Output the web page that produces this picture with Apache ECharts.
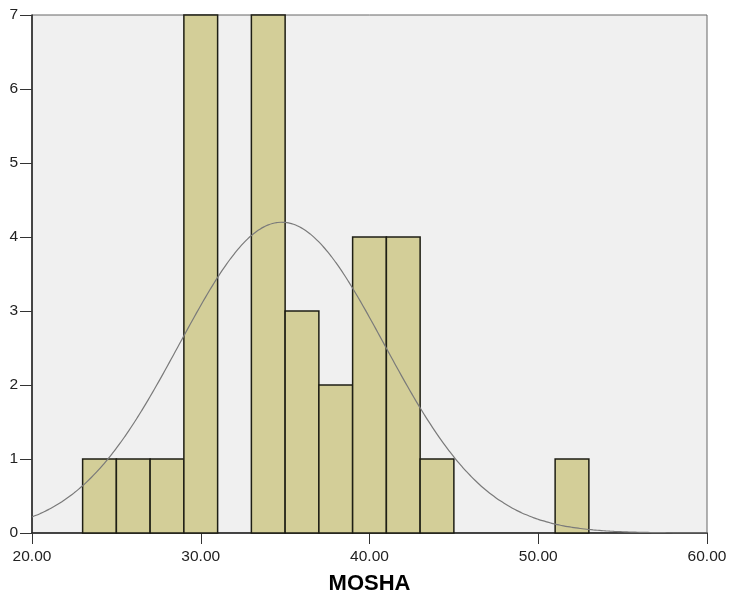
<!DOCTYPE html>
<html>
<head>
<meta charset="utf-8">
<script src="https://cdn.jsdelivr.net/npm/echarts@6/dist/echarts.min.js"></script>
<style>
  html, body { margin: 0; padding: 0; background: #ffffff; }
  #chart { width: 730px; height: 592px; }
</style>
</head>
<body>
<div id="chart"></div>
<script>
// Histogram of MOSHA (age), bins of width 2
const binStarts = [23, 25, 27, 29, 31, 33, 35, 37, 39, 41, 43, 45, 47, 49, 51];
const binCounts = [1, 1, 1, 7, 0, 7, 3, 2, 4, 4, 1, 0, 0, 0, 1];
const binWidth = 2;

// Fitted normal curve parameters
const sampleMean = 34.8;
const sampleSd = 6.08;
const sampleN = 32;

const xTicks = [20, 30, 40, 50, 60];
const yTicks = [0, 1, 2, 3, 4, 5, 6, 7];

const bars = binStarts
  .map((s, i) => [s, s + binWidth, binCounts[i]])
  .filter(d => d[2] > 0);

// Normal density scaled to counts per bin
const curve = [];
for (let x = 20; x <= 60.0001; x += 0.25) {
  const z = (x - sampleMean) / sampleSd;
  const y = sampleN * binWidth * Math.exp(-0.5 * z * z) / (sampleSd * Math.sqrt(2 * Math.PI));
  curve.push([x, y]);
}

const chart = echarts.init(document.getElementById('chart'));
chart.setOption({
  animation: false,
  backgroundColor: '#ffffff',
  grid: {
    left: 32, right: 23, top: 15, bottom: 59,
    outerBoundsMode: 'none',
    containLabel: false,
    show: true,
    backgroundColor: '#f0f0f0',
    borderColor: '#666666',
    borderWidth: 1
  },
  xAxis: {
    type: 'value',
    min: xTicks[0], max: xTicks[xTicks.length - 1], interval: 10,
    name: 'MOSHA',
    nameLocation: 'middle',
    nameGap: 40,
    nameTextStyle: { fontFamily: 'Liberation Sans', fontSize: 22, fontWeight: 'bold', color: '#000' },
    axisLine: { show: true, lineStyle: { color: '#222', width: 1.5 } },
    axisTick: { show: true, length: 11, lineStyle: { color: '#333' } },
    axisLabel: {
      margin: 16,
      fontFamily: 'Liberation Sans', fontSize: 15.5, color: '#222',
      formatter: v => v.toFixed(2)
    },
    splitLine: { show: false }
  },
  yAxis: {
    type: 'value',
    min: yTicks[0], max: yTicks[yTicks.length - 1], interval: 1,
    axisLine: { show: true, lineStyle: { color: '#222', width: 1.5 } },
    axisTick: { show: true, length: 12, lineStyle: { color: '#333' } },
    axisLabel: { margin: 14, fontFamily: 'Liberation Sans', fontSize: 15.5, color: '#222' },
    splitLine: { show: false }
  },
  series: [
    {
      type: 'custom',
      data: bars,
      renderItem: (params, api) => {
        const p0 = api.coord([api.value(0), api.value(2)]);
        const p1 = api.coord([api.value(1), 0]);
        return {
          type: 'rect',
          shape: { x: p0[0], y: p0[1], width: p1[0] - p0[0], height: p1[1] - p0[1] },
          style: { fill: '#d3ce98', stroke: '#1e1e14', lineWidth: 1.5 }
        };
      },
      z: 2
    },
    {
      type: 'line',
      data: curve,
      showSymbol: false,
      smooth: true,
      lineStyle: { color: '#7a7a7a', width: 1.2 },
      z: 3
    }
  ]
});
</script>
</body>
</html>
